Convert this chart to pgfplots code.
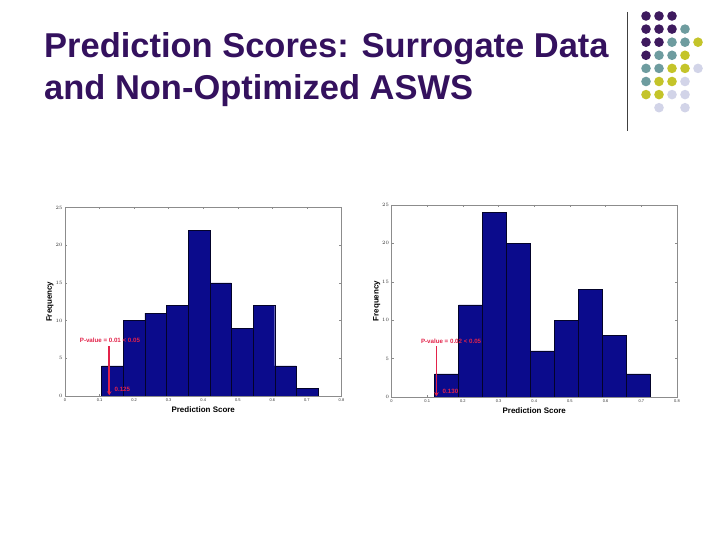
\documentclass[border=0pt]{standalone}
\usepackage{fontspec}
\setmainfont{Liberation Sans}
\usepackage{pgfplots}
\pgfplotsset{compat=1.18}
\usetikzlibrary{arrows.meta}
\definecolor{titlep}{HTML}{34115E}
\definecolor{dP}{HTML}{3E1A5E}
\definecolor{dT}{HTML}{6E9C9F}
\definecolor{dY}{HTML}{C4C42A}
\definecolor{dL}{HTML}{D2D4E8}
\definecolor{barfill}{HTML}{0B0B8C}
\definecolor{annred}{HTML}{E3234A}
\tikzset{
  annarrow/.style={draw=annred, line width=1.8bp, -{Stealth[length=4bp,width=4.5bp]}},
  anntext/.style={text=annred, font=\bfseries\fontsize{6.2}{7}\selectfont, inner sep=0},
}
\pgfplotsset{
  histax/.style={
    scale only axis,
    anchor=south west,
    xmin=0, xmax=0.8, ymin=0, ymax=25,
    xtick={0,0.1,...,0.8},
    xticklabels={0,0.1,0.2,0.3,0.4,0.5,0.6,0.7,0.8},
    ytick={0,5,...,25},
    tick label style={font=\fontsize{4}{4}\selectfont, text=black!80},
    axis line style={black!45, line width=0.6bp},
    tick style={black!45, line width=0.4bp},
    major tick length=2bp,
    tick align=inside,
    xlabel={Prediction Score},
    ylabel={Frequency},
    label style={font=\bfseries\fontsize{8}{9}\selectfont},
    xticklabel style={yshift=1bp},
    yticklabel style={xshift=1bp},
  },
  histbar/.style={ybar interval, fill=barfill, draw=black!70!barfill, line width=0.4bp},
}
\begin{document}
\begin{tikzpicture}[x=1bp,y=1bp]
\useasboundingbox (0,0) rectangle (720,540);
\fill[white] (0,0) rectangle (720,540);
\node[anchor=base west, font=\bfseries\fontsize{34.6}{35}\selectfont, text=titlep, inner sep=0] at (44,482.7) {Prediction Scores: Surrogate Data};
\node[anchor=base west, font=\bfseries\fontsize{34.6}{35}\selectfont, text=titlep, inner sep=0] at (44,440) {and Non-Optimized ASWS};
\draw[line width=1bp, black!75] (627,528) -- (627,409);
\foreach \c/\r/\col in {0/0/dP,1/0/dP,2/0/dP,
  0/1/dP,1/1/dP,2/1/dP,3/1/dT,
  0/2/dP,1/2/dP,2/2/dT,3/2/dT,4/2/dY,
  0/3/dP,1/3/dT,2/3/dT,3/3/dY,
  0/4/dT,1/4/dT,2/4/dY,3/4/dY,4/4/dL,
  0/5/dT,1/5/dY,2/5/dY,3/5/dL,
  0/6/dY,1/6/dY,2/6/dL,3/6/dL,
  1/7/dL,3/7/dL}
  {\fill[\col] ({646+13*\c},{540-16-13.1*\r}) circle (4.8);}

\begin{axis}[histax, at={(65bp,144bp)}, width=276.5bp, height=188.5bp,
  xlabel style={at={(axis description cs:0.5,-0.072)}, anchor=center},
  ylabel style={at={(axis description cs:-0.054,0.5)}, anchor=center}]
\addplot[histbar] coordinates {
(0.1060,4) (0.1686,10) (0.2312,11) (0.2938,12) (0.3564,22)
(0.4190,15) (0.4816,9) (0.5442,12) (0.6068,4) (0.6694,1) (0.7320,1)};
\draw[annarrow] (axis cs:0.128,6.6) -- (axis cs:0.128,0.1);
\node[anntext] at (axis cs:0.13,7.35) {P-value = 0.01 < 0.05};
\node[anntext, anchor=west] at (axis cs:0.143,0.9) {0.125};
\end{axis}

\begin{axis}[histax, at={(391.5bp,143bp)}, width=285.5bp, height=192bp,
  xlabel style={at={(axis description cs:0.5,-0.072)}, anchor=center},
  ylabel style={at={(axis description cs:-0.052,0.5)}, anchor=center}]
\addplot[histbar] coordinates {
(0.1210,3) (0.1881,12) (0.2552,24) (0.3223,20) (0.3894,6)
(0.4566,10) (0.5237,14) (0.5908,8) (0.6579,3) (0.7250,3)};
\draw[annarrow] (axis cs:0.126,6.6) -- (axis cs:0.126,0.1);
\node[anntext] at (axis cs:0.167,7.3) {P-value = 0.02 < 0.05};
\node[anntext, anchor=west] at (axis cs:0.143,0.75) {0.130};
\end{axis}
\end{tikzpicture}
\end{document}
